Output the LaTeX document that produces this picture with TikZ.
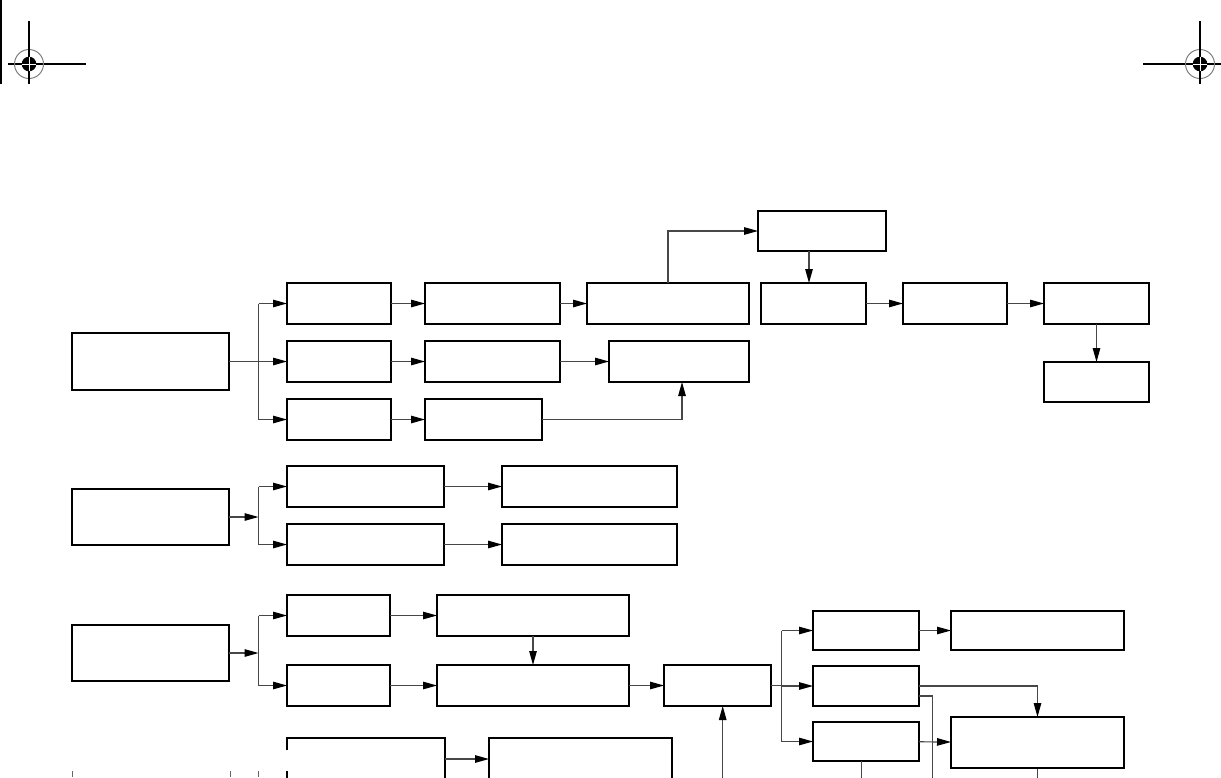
\documentclass[tikz,border=0pt]{standalone}
\usetikzlibrary{arrows.meta}
\begin{document}
\tikzset{
  box/.style={draw=black, line width=1.3pt, fill=white, inner sep=0pt, outer sep=0pt, rectangle},
  conn/.style={draw=black!72, line width=1.2pt},
  arr/.style={conn, -{Triangle[length=14pt,width=7.5pt,black]}},
  thickedge/.style={draw=black, line width=2.2pt},
  regline/.style={draw=black, line width=1.3pt},
}
\newcommand{\bx}[5]{\node[box, minimum width={((#4)-(#2))*1pt}, minimum height={((#5)-(#3))*1pt}] (#1) at ({((#2)+(#4))/2},{((#3)+(#5))/2}) {};}
\newcommand{\regmark}[2]{%
  \draw[black!50, line width=1pt] (#1,#2) circle[radius=14.5pt];
  \draw[regline] (#1,21) -- (#1,84);
  \fill[black] (#1,#2) circle[radius=7.3pt];
  \draw[white, line width=0.8pt] (#1-7.3,#2) -- (#1+7.3,#2) (#1,#2-7.3) -- (#1,#2+7.3);
}
\begin{tikzpicture}[x=1pt,y=-1pt]
\useasboundingbox (0,0) rectangle (1221,777);
\fill[white] (0,0) rectangle (1221,777);
\clip (0,0) rectangle (1221,777);

% crop / registration marks
\draw[line width=1.5pt] (0.75,0) -- (0.75,84);
\draw[regline] (8,64) -- (86,64);
\draw[regline] (1143,64) -- (1221,64);
\regmark{29}{64}
\regmark{1200}{64}

% ---------- group 1 ----------
\bx{A1}{72}{333}{229}{390}
\bx{b11}{287}{283}{391}{324}
\bx{b12}{425}{283}{560}{324}
\bx{b13}{587}{283}{749}{324}
\bx{top}{758}{211}{886}{251}
\bx{b14}{761}{283}{866}{324}
\bx{b15}{903}{283}{1007}{324}
\bx{b16}{1044}{283}{1149}{324}
\bx{b17}{1044}{362}{1149}{402}
\bx{b21}{287}{341}{391}{382}
\bx{b22}{425}{341}{560}{382}
\bx{b23}{609}{341}{749}{382}
\bx{b31}{287}{399}{391}{440}
\bx{b32}{425}{399}{542}{440}

\coordinate (br1) at (258.5,361.5);
\coordinate (x809) at (809,0);
\coordinate (x682) at (682,0);
\draw[conn] (A1.east) -- (br1);
\draw[conn] (br1 |- b11.west) -- (br1 |- b31.west);
\draw[arr] (br1 |- b11.west) -- (b11.west);
\draw[arr] (br1) -- (b21.west);
\draw[arr] (br1 |- b31.west) -- (b31.west);
\draw[arr] (b11) -- (b12);
\draw[arr] (b12) -- (b13);
\draw[arr] (b13.north) |- (top.west);
\draw[arr] (top.south -| x809) -- (b14.north -| x809);
\draw[arr] (b14) -- (b15);
\draw[arr] (b15) -- (b16);
\draw[arr] (b16) -- (b17);
\draw[arr] (b21) -- (b22);
\draw[arr] (b22) -- (b23);
\draw[arr] (b31) -- (b32);
\draw[arr] (b32.east) -| (b23.south -| x682);

% ---------- group 2 ----------
\bx{A2}{72}{489}{229}{545}
\bx{b41}{287}{466}{444}{507}
\bx{b42}{502}{466}{677}{507}
\bx{b51}{287}{524}{444}{565}
\bx{b52}{502}{524}{677}{565}
\coordinate (br2) at (258.5,517);
\draw[arr] (A2.east) -- (br2);
\draw[conn] (br2 |- b41.west) -- (br2 |- b51.west);
\draw[arr] (br2 |- b41.west) -- (b41.west);
\draw[arr] (br2 |- b51.west) -- (b51.west);
\draw[arr] (b41) -- (b42);
\draw[arr] (b51) -- (b52);

% ---------- group 3 ----------
\bx{A3}{72}{625}{229}{681}
\bx{c1}{287}{595}{390}{636}
\bx{c2}{437}{595}{629}{636}
\bx{c3}{287}{665}{390}{706}
\bx{c4}{437}{665}{629}{706}
\bx{c5}{664}{665}{771}{706}
\bx{d1}{813}{611}{919}{650}
\bx{d2}{951}{611}{1124}{650}
\bx{d3}{813}{666}{919}{706}
\bx{d4}{813}{722}{919}{761}
\bx{big}{951}{717}{1124}{768}
\bx{e1}{287}{738}{445}{800}
\bx{e2}{489}{738}{672}{800}

\coordinate (br3) at (258.5,653);
\coordinate (br4) at (781.5,686);
\coordinate (x723) at (722.7,0);
\coordinate (x862) at (861.7,0);
\coordinate (x932) at (932.3,0);
\coordinate (bot) at (0,790);
\draw[arr] (A3.east) -- (br3);
\draw[conn] (br3 |- c1.west) -- (br3 |- c3.west);
\draw[arr] (br3 |- c1.west) -- (c1.west);
\draw[arr] (br3 |- c3.west) -- (c3.west);
\draw[arr] (c1) -- (c2);
\draw[arr] (c3) -- (c4);
\draw[arr] (c2) -- (c4);
\draw[arr] (c4) -- (c5);
\draw[conn] (c5.east) -- (c5.east -| br4);
\draw[conn] (br4 |- d1.west) -- (br4 |- d4.west);
\draw[arr] (br4 |- d1.west) -- (d1.west);
\draw[arr] (br4 |- d3.west) -- (d3.west);
\draw[arr] (br4 |- d4.west) -- (d4.west);
\draw[arr] (d1) -- (d2);
\draw[arr] (d3.east) -| (big.north);
\draw[conn] ([yshift=-10pt]d3.east) -| (bot -| x932);
\draw[arr] (d4) -- (big);
\draw[conn] (d4.south -| x862) -- (bot -| x862);
\draw[conn] (big.south) -- (bot -| big.south);
\draw[arr] (bot -| x723) -- (c5.south -| x723);
\draw[arr] ([yshift=-21pt]e1.north east) -- ([yshift=-21pt]e2.north west);

% heavier edges as printed
\draw[thickedge] (b13.north west) -- (b13.south west);
\draw[thickedge] (top.north east) -- (top.south east);
\draw[thickedge] (b15.north west) -- (b15.south west);
\draw[thickedge] (b17.north west) -- (b17.north east);
\draw[thickedge] (b41.north west) -- (b41.south west);
\draw[thickedge] (b51.north west) -- (b51.south west);
\draw[thickedge] (c1.north west) -- (c1.south west);
\draw[thickedge] (c3.north west) -- (c3.south west);
\draw[thickedge] (d3.south west) -- (d3.south east);
\draw[thickedge] (big.south west) -- (big.south east);
\draw[thickedge] (e1.north west) -- (e1.south west);
\draw[thickedge] (e2.north east) -- (e2.south east);

% cut-off marks at the bottom edge
\fill[white] (282,750) rectangle (292,771);
\draw[black!60, line width=1pt] (72,771) -- (72,777) (230,771) -- (230,777) (258.5,771) -- (258.5,777);
\draw[black, line width=2pt] (287,771) -- (287,777);
\end{tikzpicture}
\end{document}
